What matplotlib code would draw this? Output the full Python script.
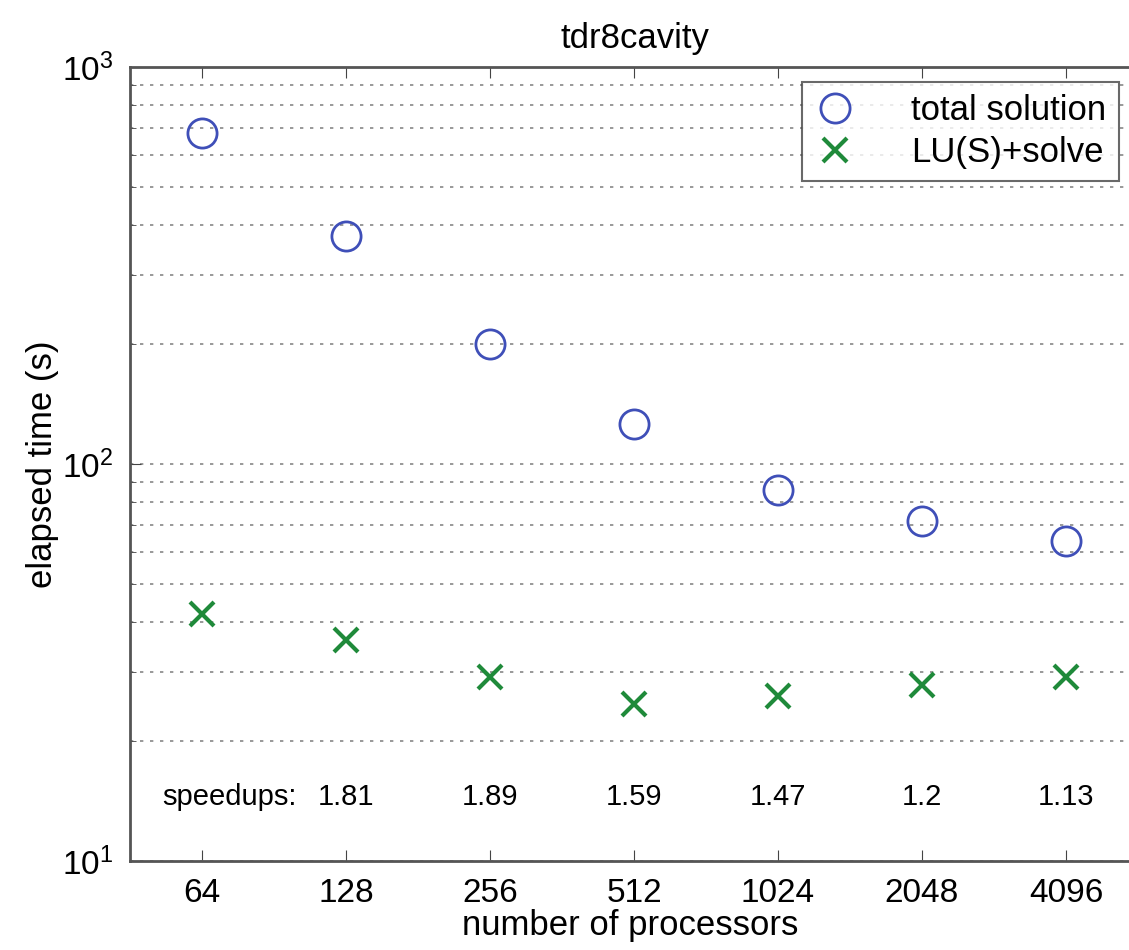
import matplotlib
matplotlib.use('Agg')
import matplotlib.pyplot as plt
from matplotlib.ticker import LogLocator, NullFormatter, FixedLocator, FixedFormatter

plt.rcParams['font.family'] = ['Liberation Sans', 'DejaVu Sans']

# data
procs = [64, 128, 256, 512, 1024, 2048, 4096]
total_solution = [682, 375, 200, 126, 86, 72, 64]
lu_solve = [42, 36, 29, 24.8, 26, 27.7, 29]
speedups = ['1.81', '1.89', '1.59', '1.47', '1.2', '1.13']

fig = plt.figure(figsize=(11.29, 9.5), dpi=100)
# axes run past the right edge (cropped like the reference)
ax = fig.add_axes([130 / 1129, 1 - 861 / 950, 1008 / 1129, 794 / 950])

ax.set_xscale('log', base=2)
ax.set_yscale('log')
ax.set_xlim(2 ** 5.5, 2 ** 12.5)
ax.set_ylim(10, 1000)

ax.plot(procs, total_solution, 'o', ms=21, mfc='none', mec='#3f4fb8', mew=2,
        label='total solution')
ax.plot(procs, lu_solve, 'x', ms=17, mec='#1f8a3a', mew=3, label='LU(S)+solve')

ax.xaxis.set_major_locator(FixedLocator(procs))
ax.xaxis.set_major_formatter(FixedFormatter([str(p) for p in procs]))
ax.xaxis.set_minor_locator(FixedLocator([]))
ax.yaxis.set_minor_locator(LogLocator(base=10, subs=range(2, 10)))
ax.yaxis.set_minor_formatter(NullFormatter())

ax.tick_params(which='both', direction='in', top=True, right=False, labelsize=24,
               color='#444444', pad=12)
ax.tick_params(which='major', length=8)
ax.tick_params(which='minor', length=4)
for s in ax.spines.values():
    s.set_color('#555555')
    s.set_linewidth(2)
ax.spines['right'].set_visible(False)

ax.yaxis.grid(True, which='both', linestyle=(0, (2, 4)), color='#888888', linewidth=1.2)

# speedup annotations
ax.text(73, 14.5, 'speedups:', ha='center', va='center', fontsize=21)
for p, s in zip(procs[1:], speedups):
    ax.text(p, 14.5, s, ha='center', va='center', fontsize=21)

ax.set_title('tdr8cavity', fontsize=25, pad=14, x=505 / 1008)
ax.set_xlabel('number of processors', fontsize=25, labelpad=0, x=500 / 1008)
ax.set_ylabel('elapsed time (s)', fontsize=25, labelpad=2)

leg = ax.legend(loc='upper left', bbox_to_anchor=(672 / 1008, 1 - 15 / 794),
                fontsize=25, frameon=True, fancybox=False, edgecolor='#444444',
                handletextpad=1.6, borderpad=0.35, labelspacing=0.25,
                handlelength=1.2, borderaxespad=0)
leg.get_frame().set_linewidth(1.5)

fig.savefig('out.png', dpi=100)
